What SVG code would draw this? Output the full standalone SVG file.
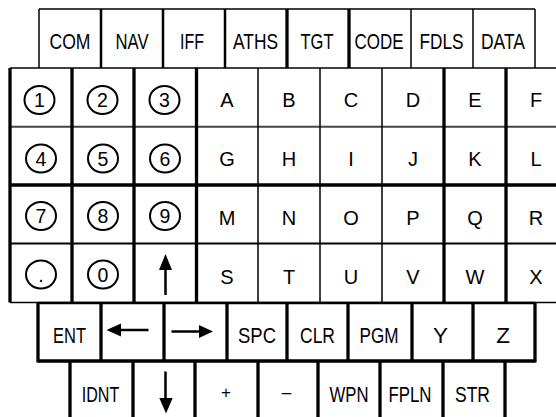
<svg xmlns="http://www.w3.org/2000/svg" width="556" height="417" viewBox="0 0 556 417">
<style>
text{font-family:"Liberation Sans Narrow","Arial Narrow","Liberation Sans",Arial,sans-serif;fill:#000;text-anchor:middle}
.lb{font-size:22.5px}
.ch{font-size:20px}
.dg{font-size:19.5px}
.sm{font-size:17px}
.ln{stroke:#000;fill:none;stroke-linecap:butt}
.t1{stroke-width:1.5}
.t2{stroke-width:2.5}
.t3{stroke-width:3.3}
.gr{stroke:#444;stroke-width:2}
.cir{fill:none;stroke:#000;stroke-width:2}
.arw{stroke:#000;stroke-width:2.5;fill:none}
.hd{fill:#000}
</style>
<rect width="556" height="417" fill="#fff"/>
<g id="grid">
  <line class="ln t1" x1="39" y1="9" x2="535" y2="9"/>
  <line class="ln t1" x1="39" y1="9" x2="39" y2="68"/>
  <line class="ln t2" x1="101" y1="9" x2="101" y2="68"/>
  <line class="ln t2" x1="163" y1="9" x2="163" y2="68"/>
  <line class="ln t2" x1="225" y1="9" x2="225" y2="68"/>
  <line class="ln t3" x1="287" y1="9" x2="287" y2="68"/>
  <line class="ln t3" x1="349" y1="9" x2="349" y2="68"/>
  <line class="ln t1" x1="411" y1="9" x2="411" y2="68"/>
  <line class="ln t1" x1="473" y1="9" x2="473" y2="68"/>
  <line class="ln t1" x1="535" y1="9" x2="535" y2="68"/>
  <line class="ln t1" x1="10" y1="68" x2="556" y2="68"/>
  <line class="gr" x1="10" y1="126.7" x2="556" y2="126.7"/>
  <line class="ln t3" x1="10" y1="185" x2="556" y2="185"/>
  <line class="ln" stroke-width="2" x1="10" y1="243.5" x2="556" y2="243.5"/>
  <line class="ln t1" x1="10" y1="302.5" x2="556" y2="302.5"/>
  <line class="ln t3" x1="10" y1="68" x2="10" y2="302.5"/>
  <line class="ln t3" x1="72" y1="68" x2="72" y2="302.5"/>
  <line class="ln t3" x1="134" y1="68" x2="134" y2="302.5"/>
  <line class="ln t3" x1="196.5" y1="68" x2="196.5" y2="302.5"/>
  <line class="ln t1" x1="258" y1="68" x2="258" y2="302.5"/>
  <line class="ln t1" x1="320" y1="68" x2="320" y2="302.5"/>
  <line class="ln t1" x1="382" y1="68" x2="382" y2="302.5"/>
  <line class="ln t3" x1="444" y1="68" x2="444" y2="302.5"/>
  <line class="ln t3" x1="506" y1="68" x2="506" y2="302.5"/>
  <line class="ln t2" x1="38" y1="303" x2="535" y2="303"/>
  <line class="ln t3" x1="38" y1="361" x2="535" y2="361"/>
  <line class="ln t3" x1="38" y1="302" x2="38" y2="362.5"/>
  <line class="ln t3" x1="101" y1="302" x2="101" y2="361"/>
  <line class="ln t3" x1="164" y1="302" x2="164" y2="361"/>
  <line class="ln t3" x1="227" y1="302" x2="227" y2="361"/>
  <line class="ln t3" x1="287" y1="302" x2="287" y2="361"/>
  <line class="ln t3" x1="348" y1="302" x2="348" y2="361"/>
  <line class="ln t3" x1="412" y1="302" x2="412" y2="361"/>
  <line class="ln t3" x1="473" y1="302" x2="473" y2="361"/>
  <line class="ln t3" x1="535" y1="302" x2="535" y2="362.5"/>
  <line class="ln t3" x1="70" y1="361" x2="70" y2="417"/>
  <line class="ln t3" x1="133" y1="361" x2="133" y2="417"/>
  <line class="ln t3" x1="195" y1="361" x2="195" y2="417"/>
  <line class="ln t3" x1="258" y1="361" x2="258" y2="417"/>
  <line class="ln t3" x1="318" y1="361" x2="318" y2="417"/>
  <line class="ln t3" x1="380" y1="361" x2="380" y2="417"/>
  <line class="ln t3" x1="443" y1="361" x2="443" y2="417"/>
  <line class="ln t3" x1="505" y1="361" x2="505" y2="417"/>
</g>
<g id="key-COM"><text class="lb" x="70" y="49" textLength="41" lengthAdjust="spacingAndGlyphs">COM</text></g>
<g id="key-NAV"><text class="lb" x="132" y="49" textLength="33" lengthAdjust="spacingAndGlyphs">NAV</text></g>
<g id="key-IFF"><text class="lb" x="192" y="49" textLength="24" lengthAdjust="spacingAndGlyphs">IFF</text></g>
<g id="key-ATHS"><text class="lb" x="255.5" y="49" textLength="45" lengthAdjust="spacingAndGlyphs">ATHS</text></g>
<g id="key-TGT"><text class="lb" x="317" y="49" textLength="33" lengthAdjust="spacingAndGlyphs">TGT</text></g>
<g id="key-CODE"><text class="lb" x="379" y="49" textLength="49" lengthAdjust="spacingAndGlyphs">CODE</text></g>
<g id="key-FDLS"><text class="lb" x="441.5" y="49" textLength="44" lengthAdjust="spacingAndGlyphs">FDLS</text></g>
<g id="key-DATA"><text class="lb" x="503" y="49" textLength="44" lengthAdjust="spacingAndGlyphs">DATA</text></g>
<g id="key-1"><ellipse class="cir" cx="39.5" cy="100" rx="15" ry="14"/><text class="dg" x="39.5" y="107">1</text></g>
<g id="key-2"><ellipse class="cir" cx="102.5" cy="100" rx="15" ry="14"/><text class="dg" x="102.5" y="107">2</text></g>
<g id="key-3"><ellipse class="cir" cx="164.5" cy="100" rx="15" ry="14"/><text class="dg" x="164.5" y="107">3</text></g>
<g id="key-4"><ellipse class="cir" cx="41" cy="158.5" rx="15" ry="14"/><text class="dg" x="41" y="165.5">4</text></g>
<g id="key-5"><ellipse class="cir" cx="103" cy="158.5" rx="15" ry="14"/><text class="dg" x="103" y="165.5">5</text></g>
<g id="key-6"><ellipse class="cir" cx="165" cy="158.5" rx="15" ry="14"/><text class="dg" x="165" y="165.5">6</text></g>
<g id="key-7"><ellipse class="cir" cx="41" cy="216" rx="15" ry="14"/><text class="dg" x="41" y="223">7</text></g>
<g id="key-8"><ellipse class="cir" cx="103" cy="216" rx="15" ry="14"/><text class="dg" x="103" y="223">8</text></g>
<g id="key-9"><ellipse class="cir" cx="165" cy="216" rx="15" ry="14"/><text class="dg" x="165" y="223">9</text></g>
<g id="key-dot"><ellipse class="cir" cx="41" cy="274.5" rx="15" ry="14"/><text class="dg" x="41" y="281.5">.</text></g>
<g id="key-0"><ellipse class="cir" cx="103" cy="274.5" rx="15" ry="14"/><text class="dg" x="103" y="281.5">0</text></g>
<g id="key-up"><line class="arw" x1="165.5" y1="268" x2="165.5" y2="295"/><polygon class="hd" points="165.5,254 159,270 172,270"/></g>
<g id="key-A"><text class="ch" x="227" y="107">A</text></g>
<g id="key-B"><text class="ch" x="289" y="107">B</text></g>
<g id="key-C"><text class="ch" x="351" y="107">C</text></g>
<g id="key-D"><text class="ch" x="413" y="107">D</text></g>
<g id="key-E"><text class="ch" x="475" y="107">E</text></g>
<g id="key-F"><text class="ch" x="536" y="107">F</text></g>
<g id="key-G"><text class="ch" x="227" y="166">G</text></g>
<g id="key-H"><text class="ch" x="289" y="166">H</text></g>
<g id="key-I"><text class="ch" x="351" y="166">I</text></g>
<g id="key-J"><text class="ch" x="413" y="166">J</text></g>
<g id="key-K"><text class="ch" x="475" y="166">K</text></g>
<g id="key-L"><text class="ch" x="536" y="166">L</text></g>
<g id="key-M"><text class="ch" x="227" y="225">M</text></g>
<g id="key-N"><text class="ch" x="289" y="225">N</text></g>
<g id="key-O"><text class="ch" x="351" y="225">O</text></g>
<g id="key-P"><text class="ch" x="413" y="225">P</text></g>
<g id="key-Q"><text class="ch" x="475" y="225">Q</text></g>
<g id="key-R"><text class="ch" x="536" y="225">R</text></g>
<g id="key-S"><text class="ch" x="227" y="284">S</text></g>
<g id="key-T"><text class="ch" x="289" y="284">T</text></g>
<g id="key-U"><text class="ch" x="351" y="284">U</text></g>
<g id="key-V"><text class="ch" x="413" y="284">V</text></g>
<g id="key-W"><text class="ch" x="475" y="284">W</text></g>
<g id="key-X"><text class="ch" x="536" y="284">X</text></g>
<g id="key-ENT"><text class="lb" x="69.5" y="342.5" textLength="33" lengthAdjust="spacingAndGlyphs">ENT</text></g>
<g id="key-left"><line class="arw" x1="119" y1="330" x2="148.5" y2="330"/><polygon class="hd" points="106.5,330 121,323.5 121,336.5"/></g>
<g id="key-right"><line class="arw" x1="171.5" y1="331.5" x2="201" y2="331.5"/><polygon class="hd" points="213,331.5 199,325 199,338"/></g>
<g id="key-SPC"><text class="lb" x="257" y="342.5" textLength="38" lengthAdjust="spacingAndGlyphs">SPC</text></g>
<g id="key-CLR"><text class="lb" x="317.5" y="342.5" textLength="35" lengthAdjust="spacingAndGlyphs">CLR</text></g>
<g id="key-PGM"><text class="lb" x="379" y="342.5" textLength="39" lengthAdjust="spacingAndGlyphs">PGM</text></g>
<g id="key-Y"><text class="lb" x="440.5" y="342.5">Y</text></g>
<g id="key-Z"><text class="lb" x="503" y="342.5">Z</text></g>
<g id="key-IDNT"><text class="lb" x="100.5" y="401.5" textLength="37.5" lengthAdjust="spacingAndGlyphs">IDNT</text></g>
<g id="key-down"><line class="arw" x1="165.5" y1="371.5" x2="165.5" y2="400"/><polygon class="hd" points="166,413.5 159.3,398 172.7,398"/></g>
<g id="key-plus"><text class="sm" x="226" y="398">+</text></g>
<g id="key-minus"><text class="sm" x="286.5" y="398">–</text></g>
<g id="key-WPN"><text class="lb" x="349" y="401.5" textLength="39" lengthAdjust="spacingAndGlyphs">WPN</text></g>
<g id="key-FPLN"><text class="lb" x="410" y="401.5" textLength="43" lengthAdjust="spacingAndGlyphs">FPLN</text></g>
<g id="key-STR"><text class="lb" x="472.5" y="401.5" textLength="35" lengthAdjust="spacingAndGlyphs">STR</text></g>
</svg>
